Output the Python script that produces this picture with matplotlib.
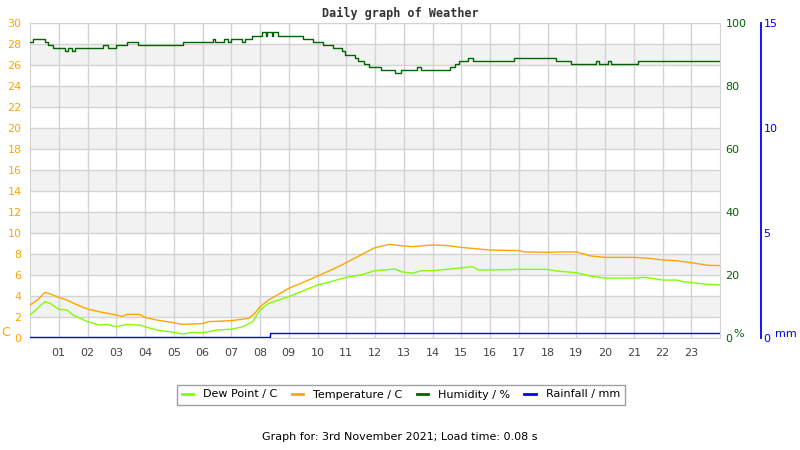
import matplotlib
matplotlib.use("Agg")
import matplotlib.pyplot as plt
from matplotlib.lines import Line2D

# hours of the day and readings
temp_t = [0, 0.25, 0.52, 0.7, 1.0, 1.28, 1.6, 2.0, 2.5, 3.0, 3.2, 3.4, 3.8, 4.0, 4.4,
          5.0, 5.3, 6.0, 6.2, 7.0, 7.6, 7.8, 8.0, 8.3, 8.6, 9.0, 9.5, 10.0, 10.5, 11.0,
          11.5, 12.0, 12.5, 12.9, 13.3, 14.0, 14.5, 15.0, 15.5, 16.0, 17.0, 17.2, 18.0,
          18.5, 19.0, 19.5, 20.0, 21.0, 21.5, 22.0, 22.5, 23.0, 23.6, 24.0]
temp_v = [3.14, 3.6, 4.35, 4.2, 3.87, 3.62, 3.2, 2.76, 2.45, 2.19, 2.05, 2.25, 2.25, 1.97, 1.71,
          1.46, 1.30, 1.37, 1.56, 1.65, 1.87, 2.3, 2.98, 3.62, 4.1, 4.73, 5.3, 5.9, 6.5, 7.17,
          7.9, 8.6, 8.92, 8.79, 8.7, 8.86, 8.8, 8.63, 8.5, 8.38, 8.32, 8.2, 8.16,
          8.2, 8.2, 7.81, 7.68, 7.68, 7.6, 7.43, 7.36, 7.17, 6.92, 6.9]

dew_t = [0, 0.25, 0.52, 0.7, 1.0, 1.28, 1.5, 2.0, 2.4, 2.65, 3.0, 3.4, 3.8, 4.0, 4.4,
         5.0, 5.3, 5.6, 6.0, 6.5, 7.0, 7.4, 7.75, 8.0, 8.3, 9.0, 9.5, 10.0, 10.5, 11.0,
         11.5, 12.0, 12.7, 12.9, 13.3, 13.6, 14.0, 14.8, 15.4, 15.6, 16.0, 17.0, 18.0,
         18.3, 19.0, 19.5, 20.0, 21.0, 21.4, 22.0, 22.5, 22.7, 23.0, 23.6, 24.0]
dew_v = [2.19, 2.8, 3.46, 3.3, 2.73, 2.67, 2.19, 1.56, 1.24, 1.3, 1.08, 1.3, 1.24, 1.08, 0.76,
         0.54, 0.38, 0.54, 0.5, 0.76, 0.83, 1.08, 1.56, 2.67, 3.3, 3.94, 4.5, 5.05, 5.4, 5.78,
         6.0, 6.41, 6.57, 6.32, 6.16, 6.41, 6.41, 6.63, 6.79, 6.48, 6.48, 6.54, 6.54,
         6.38, 6.22, 5.9, 5.71, 5.71, 5.78, 5.52, 5.52, 5.37, 5.27, 5.11, 5.05]

hum_t = [0.00, 0.10, 0.53, 0.64, 0.80, 1.22, 1.33, 1.45, 1.57, 2.55, 2.73, 3.00, 3.36, 3.77, 5.33,
         6.38, 6.43, 6.75, 6.90, 7.00, 7.36, 7.48, 7.73, 8.06, 8.20, 8.25, 8.40, 8.45, 8.64, 9.50,
         9.85, 10.20, 10.55, 10.85, 10.95, 11.30, 11.40, 11.60, 11.80, 12.20, 12.70, 12.90, 13.45,
         13.60, 14.60, 14.78, 14.93, 15.25, 15.40, 16.85, 17.20, 18.30, 18.80, 19.70, 19.80, 20.10,
         20.20, 21.15, 24.00]
hum_v = [94, 95, 94, 93, 92, 91, 92, 91, 92, 93, 92, 93, 94, 93, 94,
         95, 94, 95, 94, 95, 94, 95, 96, 97, 96, 97, 96, 97, 96, 95,
         94, 93, 92, 91, 90, 89, 88, 87, 86, 85, 84, 85, 86,
         85, 86, 87, 88, 89, 88, 89, 89, 88, 87, 88, 87, 88,
         87, 88, 88]

rain_t = [0, 8.35, 24]
rain_v = [0.05, 0.25, 0.25]

hour_labels = [f"{h:02d}" for h in range(1, 24)]

ORANGE = "#FFA500"
LIME = "#80FF00"
DKGREEN = "#006400"
BLUE = "#0000FF"
GRID = "#d3d3d3"


def px(x, y):
    return x / 800, 1 - y / 450


fig = plt.figure(figsize=(8, 4.5), dpi=100)
ax = fig.add_axes([30 / 800, 112 / 450, 690 / 800, 315 / 450])

ax.set_xlim(0, 24)
ax.set_ylim(0, 30)
for lo in range(2, 30, 4):
    ax.axhspan(lo, lo + 2, color="#f2f2f2", lw=0, zorder=0)
ax.set_xticks(range(1, 24))
ax.set_xticklabels(hour_labels)
ax.set_yticks(range(0, 31, 2))
ax.grid(True, color=GRID, lw=1)
ax.set_axisbelow(True)
ax.tick_params(axis="x", length=0, pad=7, labelsize=8, labelcolor="#444444")
ax.tick_params(axis="y", length=0, pad=6, labelsize=8, labelcolor=ORANGE)
for s in ax.spines.values():
    s.set_color(GRID)

ax.plot(dew_t, dew_v, color=LIME, lw=1.0, zorder=3)
ax.plot(temp_t, temp_v, color=ORANGE, lw=1.0, zorder=3)

# humidity, right axis
ax_h = ax.twinx()
ax_h.set_ylim(0, 100)
ax_h.set_yticks(range(0, 101, 20))
ax_h.tick_params(axis="y", length=0, pad=4, labelsize=8, labelcolor=DKGREEN)
for s in ax_h.spines.values():
    s.set_visible(False)
ax_h.plot(hum_t, hum_v, color=DKGREEN, lw=1.0, drawstyle="steps-post")

# rainfall, second right axis
ax_r = ax.twinx()
ax_r.set_ylim(0, 15)
ax_r.set_yticks([0, 5, 10, 15])
ax_r.spines["right"].set_position(("axes", 1.059))
for name in ["top", "left", "bottom"]:
    ax_r.spines[name].set_visible(False)
ax_r.spines["right"].set_color(BLUE)
ax_r.spines["right"].set_linewidth(1.3)
ax_r.tick_params(axis="y", length=0, pad=2, labelsize=8, labelcolor=BLUE)
ax_r.plot(rain_t, rain_v, color=BLUE, lw=1.0, drawstyle="steps-post")

# unit labels
fig.text(*px(6, 333), "C", color=ORANGE, fontsize=9, ha="center", va="center")
fig.text(*px(739, 334), "%", color=DKGREEN, fontsize=8, ha="center", va="center")
fig.text(*px(786, 334), "mm", color=BLUE, fontsize=8, ha="center", va="center")

fig.text(*px(400, 13), "Daily graph of Weather", family="DejaVu Sans Mono",
         weight="bold", fontsize=8.5, color="#333333", ha="center", va="center")

handles = [Line2D([], [], color=LIME, lw=2),
           Line2D([], [], color=ORANGE, lw=2),
           Line2D([], [], color=DKGREEN, lw=2),
           Line2D([], [], color=BLUE, lw=2)]
labels = ["Dew Point / C", "Temperature / C", "Humidity / %", "Rainfall / mm"]
leg = fig.legend(handles, labels, loc="center", bbox_to_anchor=px(401, 394.5), ncol=4,
                 fontsize=8, frameon=True, fancybox=False, edgecolor="#888888",
                 handlelength=1.0, handletextpad=0.9, columnspacing=1.3, borderpad=0.45)
leg.get_frame().set_linewidth(1)

fig.text(*px(400, 437), "Graph for: 3rd November 2021; Load time: 0.08 s",
         fontsize=8, color="black", ha="center", va="center")

fig.savefig("out.png", dpi=100)
